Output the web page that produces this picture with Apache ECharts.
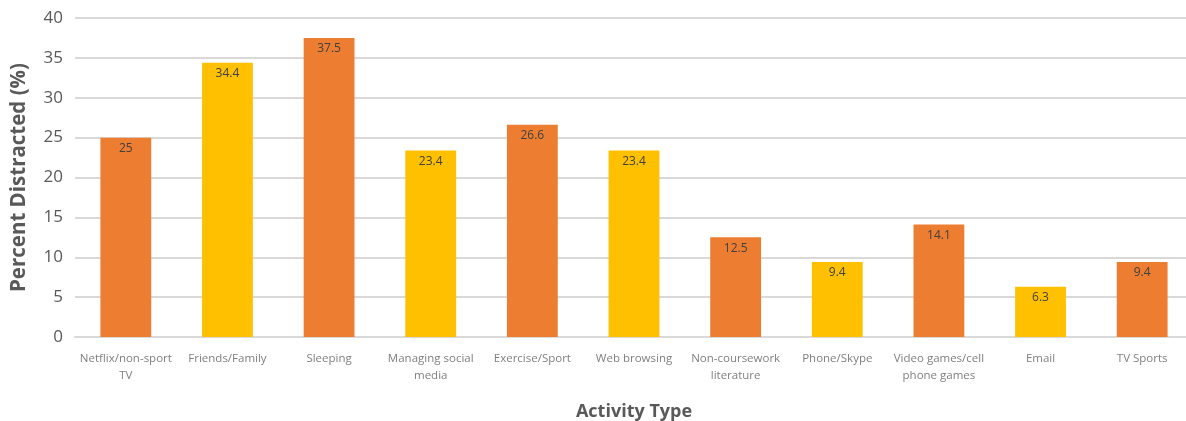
<!DOCTYPE html>
<html>
<head>
<meta charset="utf-8">
<script src="https://cdn.jsdelivr.net/npm/echarts@6/dist/echarts.min.js"></script>
<style>
  html, body { margin: 0; padding: 0; background: #fff; }
  #chart { width: 1186px; height: 421px; }
</style>
</head>
<body>
<div id="chart"></div>
<script>
// Activities students were distracted by, and the share distracted by each
const categories = [
  'Netflix/non-sport\nTV',
  'Friends/Family',
  'Sleeping',
  'Managing social\nmedia',
  'Exercise/Sport',
  'Web browsing',
  'Non-coursework\nliterature',
  'Phone/Skype',
  'Video games/cell\nphone games',
  'Email',
  'TV Sports'
];
const percentDistracted = [25, 34.4, 37.5, 23.4, 26.6, 23.4, 12.5, 9.4, 14.1, 6.3, 9.4];
const barColors = ['#ED7D31', '#FFC000'];
const yTicks = [0, 5, 10, 15, 20, 25, 30, 35, 40];

const font = '"Open Sans", "Liberation Sans", sans-serif';
const chart = echarts.init(document.getElementById('chart'));

chart.setOption({
  animation: false,
  textStyle: { fontFamily: font },
  grid: { left: 75, width: 1118, top: 18, bottom: 84, outerBoundsMode: 'none', containLabel: false },
  xAxis: {
    type: 'category',
    data: categories,
    name: 'Activity Type',
    nameLocation: 'middle',
    nameGap: 66,
    nameTextStyle: { fontSize: 18, fontWeight: 'bold', color: '#595959', fontFamily: font },
    axisLine: { show: true, lineStyle: { color: '#D9D9D9', width: 2 } },
    axisTick: { show: false },
    axisLabel: {
      interval: 0,
      color: '#7F7F7F',
      fontSize: 11.5,
      lineHeight: 17,
      margin: 13,
      fontFamily: font
    }
  },
  yAxis: {
    type: 'value',
    min: yTicks[0],
    max: yTicks[yTicks.length - 1],
    interval: 5,
    name: 'Percent Distracted (%)',
    nameLocation: 'middle',
    nameGap: 45,
    nameTextStyle: { fontSize: 20.5, fontWeight: 'bold', color: '#595959', fontFamily: font },
    axisLine: { show: false },
    axisTick: { show: false },
    axisLabel: { color: '#595959', fontSize: 17, margin: 12, fontFamily: font },
    splitLine: { lineStyle: { color: '#D9D9D9', width: 2 } }
  },
  series: [{
    type: 'bar',
    data: percentDistracted.map((v, i) => ({
      value: v,
      itemStyle: { color: barColors[i % 2] }
    })),
    barWidth: '50%',
    label: {
      show: true,
      position: 'insideTop',
      distance: 5,
      color: '#404040',
      fontSize: 12,
      fontFamily: font
    }
  }]
});
</script>
</body>
</html>
